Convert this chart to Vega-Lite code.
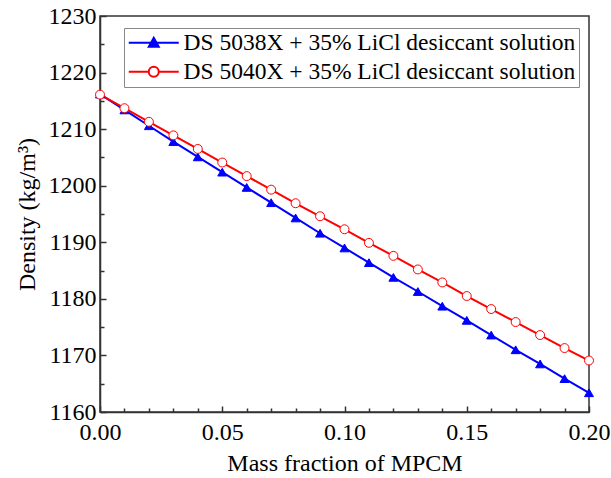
{
  "$schema": "https://vega.github.io/schema/vega-lite/v6.json",
  "width": 489,
  "height": 396,
  "autosize": "none",
  "padding": {"left": 100, "top": 16, "right": 22, "bottom": 66},
  "background": "white",
  "config": {
    "view": {"stroke": "#333", "strokeWidth": 1.5},
    "font": "Liberation Serif, Times New Roman, serif",
    "axis": {"grid": false, "domainColor": "#333", "domainWidth": 1.5, "tickColor": "#333", "tickWidth": 1.5, "labelColor": "black", "titleColor": "black", "labelFont": "Liberation Serif, Times New Roman, serif", "titleFont": "Liberation Serif, Times New Roman, serif", "labelFontSize": 24, "titleFontSize": 24, "titleFontWeight": "normal", "labelOverlap": false, "labelFlush": false}
  },
  "resolve": {"legend": {"color": "independent", "shape": "independent", "fill": "independent", "stroke": "independent"}},
  "data": {"values": [
    {"x": 0.00, "d": 1216.2, "s": "DS 5038X + 35% LiCl desiccant solution"},
    {"x": 0.01, "d": 1213.4, "s": "DS 5038X + 35% LiCl desiccant solution"},
    {"x": 0.02, "d": 1210.6, "s": "DS 5038X + 35% LiCl desiccant solution"},
    {"x": 0.03, "d": 1207.8, "s": "DS 5038X + 35% LiCl desiccant solution"},
    {"x": 0.04, "d": 1205.1, "s": "DS 5038X + 35% LiCl desiccant solution"},
    {"x": 0.05, "d": 1202.4, "s": "DS 5038X + 35% LiCl desiccant solution"},
    {"x": 0.06, "d": 1199.7, "s": "DS 5038X + 35% LiCl desiccant solution"},
    {"x": 0.07, "d": 1197.0, "s": "DS 5038X + 35% LiCl desiccant solution"},
    {"x": 0.08, "d": 1194.3, "s": "DS 5038X + 35% LiCl desiccant solution"},
    {"x": 0.09, "d": 1191.6, "s": "DS 5038X + 35% LiCl desiccant solution"},
    {"x": 0.10, "d": 1189.0, "s": "DS 5038X + 35% LiCl desiccant solution"},
    {"x": 0.11, "d": 1186.4, "s": "DS 5038X + 35% LiCl desiccant solution"},
    {"x": 0.12, "d": 1183.8, "s": "DS 5038X + 35% LiCl desiccant solution"},
    {"x": 0.13, "d": 1181.3, "s": "DS 5038X + 35% LiCl desiccant solution"},
    {"x": 0.14, "d": 1178.7, "s": "DS 5038X + 35% LiCl desiccant solution"},
    {"x": 0.15, "d": 1176.2, "s": "DS 5038X + 35% LiCl desiccant solution"},
    {"x": 0.16, "d": 1173.6, "s": "DS 5038X + 35% LiCl desiccant solution"},
    {"x": 0.17, "d": 1171.0, "s": "DS 5038X + 35% LiCl desiccant solution"},
    {"x": 0.18, "d": 1168.5, "s": "DS 5038X + 35% LiCl desiccant solution"},
    {"x": 0.19, "d": 1165.9, "s": "DS 5038X + 35% LiCl desiccant solution"},
    {"x": 0.20, "d": 1163.4, "s": "DS 5038X + 35% LiCl desiccant solution"},
    {"x": 0.00, "d": 1216.1, "s": "DS 5040X + 35% LiCl desiccant solution"},
    {"x": 0.01, "d": 1213.7, "s": "DS 5040X + 35% LiCl desiccant solution"},
    {"x": 0.02, "d": 1211.3, "s": "DS 5040X + 35% LiCl desiccant solution"},
    {"x": 0.03, "d": 1208.9, "s": "DS 5040X + 35% LiCl desiccant solution"},
    {"x": 0.04, "d": 1206.5, "s": "DS 5040X + 35% LiCl desiccant solution"},
    {"x": 0.05, "d": 1204.1, "s": "DS 5040X + 35% LiCl desiccant solution"},
    {"x": 0.06, "d": 1201.7, "s": "DS 5040X + 35% LiCl desiccant solution"},
    {"x": 0.07, "d": 1199.3, "s": "DS 5040X + 35% LiCl desiccant solution"},
    {"x": 0.08, "d": 1196.9, "s": "DS 5040X + 35% LiCl desiccant solution"},
    {"x": 0.09, "d": 1194.6, "s": "DS 5040X + 35% LiCl desiccant solution"},
    {"x": 0.10, "d": 1192.3, "s": "DS 5040X + 35% LiCl desiccant solution"},
    {"x": 0.11, "d": 1189.9, "s": "DS 5040X + 35% LiCl desiccant solution"},
    {"x": 0.12, "d": 1187.6, "s": "DS 5040X + 35% LiCl desiccant solution"},
    {"x": 0.13, "d": 1185.2, "s": "DS 5040X + 35% LiCl desiccant solution"},
    {"x": 0.14, "d": 1182.9, "s": "DS 5040X + 35% LiCl desiccant solution"},
    {"x": 0.15, "d": 1180.5, "s": "DS 5040X + 35% LiCl desiccant solution"},
    {"x": 0.16, "d": 1178.2, "s": "DS 5040X + 35% LiCl desiccant solution"},
    {"x": 0.17, "d": 1175.9, "s": "DS 5040X + 35% LiCl desiccant solution"},
    {"x": 0.18, "d": 1173.6, "s": "DS 5040X + 35% LiCl desiccant solution"},
    {"x": 0.19, "d": 1171.3, "s": "DS 5040X + 35% LiCl desiccant solution"},
    {"x": 0.20, "d": 1169.1, "s": "DS 5040X + 35% LiCl desiccant solution"}
  ]},
  "encoding": {
    "x": {
      "field": "x", "type": "quantitative",
      "scale": {"domain": [0, 0.2], "nice": false, "zero": false},
      "axis": {
        "title": "Mass fraction of MPCM",
        "values": [0, 0.01, 0.02, 0.03, 0.04, 0.05, 0.06, 0.07, 0.08, 0.09, 0.10, 0.11, 0.12, 0.13, 0.14, 0.15, 0.16, 0.17, 0.18, 0.19, 0.20],
        "labelExpr": "round(datum.value*100) % 5 === 0 ? format(datum.value, '.2f') : ''",
        "tickSize": {"condition": {"test": "round(datum.value*100) % 5 === 0", "value": -6}, "value": -4},
        "labelPadding": 14,
        "titlePadding": 5
      }
    },
    "y": {
      "field": "d", "type": "quantitative",
      "scale": {"domain": [1160, 1230], "nice": false, "zero": false},
      "axis": {
        "title": "Density (kg/m³)",
        "values": [1160, 1165, 1170, 1175, 1180, 1185, 1190, 1195, 1200, 1205, 1210, 1215, 1220, 1225, 1230],
        "labelExpr": "datum.value % 10 === 0 ? '' + datum.value : ''",
        "tickSize": {"condition": {"test": "datum.value % 10 === 0", "value": -6}, "value": -4},
        "labelPadding": 10,
        "titlePadding": 9
      }
    }
  },
  "layer": [
    {
      "mark": {"type": "line", "strokeWidth": 2, "clip": false},
      "encoding": {
        "color": {
          "field": "s", "type": "nominal",
          "scale": {"domain": ["DS 5038X + 35% LiCl desiccant solution", "DS 5040X + 35% LiCl desiccant solution"], "range": ["#0000ff", "#ff0000"]},
          "legend": {
            "title": null,
            "orient": "none",
            "legendX": 24,
            "legendY": 12,
            "labelFont": "Liberation Serif, Times New Roman, serif",
            "labelFontSize": 23.5,
            "labelColor": "black",
            "labelLimit": 600,
            "strokeColor": "#888",
            "padding": 3,
            "rowPadding": 4,
            "symbolSize": 400,
            "symbolOffset": 15,
            "symbolStrokeWidth": 2,
            "labelOffset": 18,
            "encode": {
              "symbols": {
                "update": {
                  "shape": {"signal": "datum.value === 'DS 5038X + 35% LiCl desiccant solution' ? 'M-2.5,0L2.5,0M0,-0.5L0.5,0.4L-0.5,0.4Z' : 'M-2.5,0L-0.5,0M0.5,0L2.5,0M0.5,0A0.5,0.5,0,1,1,-0.5,0A0.5,0.5,0,1,1,0.5,0Z'"},
                  "fill": {"signal": "datum.value === 'DS 5038X + 35% LiCl desiccant solution' ? '#0000ff' : '#ffffff'"},
                  "stroke": {"signal": "datum.value === 'DS 5038X + 35% LiCl desiccant solution' ? '#0000ff' : '#ff0000'"},
                  "strokeWidth": {"value": 2},
                  "size": {"value": 400},
                  "opacity": {"value": 1}
                }
              }
            }
          }
        }
      }
    },
    {
      "mark": {"type": "point", "filled": true, "opacity": 1, "strokeWidth": 1, "clip": false},
      "encoding": {
        "shape": {"field": "s", "type": "nominal", "scale": {"domain": ["DS 5038X + 35% LiCl desiccant solution", "DS 5040X + 35% LiCl desiccant solution"], "range": ["triangle-up", "circle"]}, "legend": null},
        "fill": {"field": "s", "type": "nominal", "scale": {"domain": ["DS 5038X + 35% LiCl desiccant solution", "DS 5040X + 35% LiCl desiccant solution"], "range": ["#0000ff", "#ffffff"]}, "legend": null},
        "stroke": {"field": "s", "type": "nominal", "scale": {"domain": ["DS 5038X + 35% LiCl desiccant solution", "DS 5040X + 35% LiCl desiccant solution"], "range": ["#0000ff", "#ff0000"]}, "legend": null},
        "size": {"value": 80}
      }
    }
  ]
}
